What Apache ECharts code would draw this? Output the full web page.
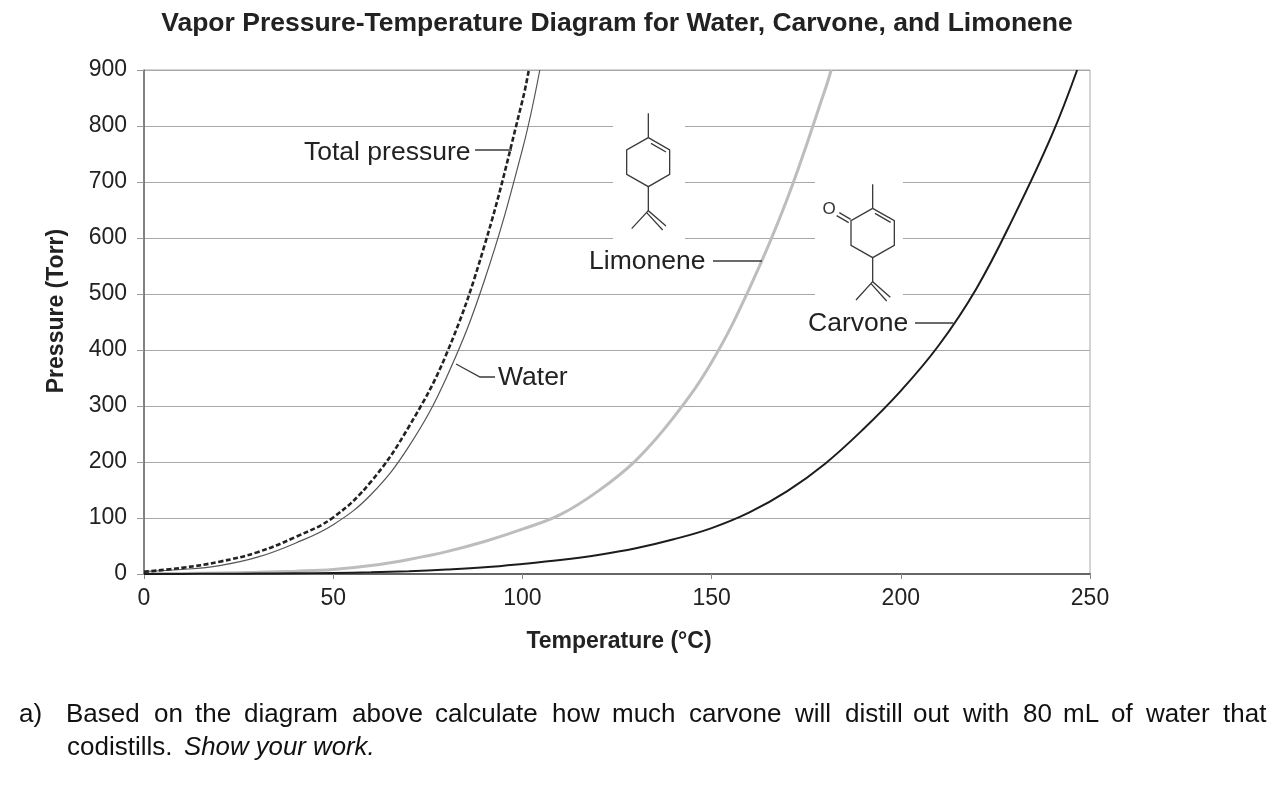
<!DOCTYPE html>
<html><head><meta charset="utf-8">
<style>html,body{margin:0;padding:0;background:#fff}#c{width:1276px;height:786px}</style>
<script src="https://cdn.jsdelivr.net/npm/echarts@6/dist/echarts.min.js"></script>
</head><body><div id="c"></div>
<script>
const xTicks = {min:0, max:250, interval:50};
const yTicks = {min:0, max:900, interval:100};
const waterT = [0,10,20,30,40,50,60,70,80,90,100,104.6];
const waterP = [4.6,8,15,30,55,88,142,228,352,525,758,900];
const totalT = [0,10,20,30,40,50,60,70,80,90,100,101.7];
const totalP = [4,11,22,39,66,101,165,263,394,587,845,900];
const limoneneT = [0,10,20,30,40,50,60,70,80,90,100,110,120,130,140,150,160,170,180,181.6];
const limoneneP = [0.5,1,2,3,5,8,15,26,40,58,80,106,148,203,280,378,510,670,865,900];
const carvoneT = [0,10,20,30,40,50,60,70,80,90,100,110,120,130,140,150,160,170,180,190,200,210,220,230,240,246.6];
const carvoneP = [0,0.2,0.4,0.7,1.2,2,3,5,8,12,18,25,34,46,62,82,110,148,197,258,327,408,510,640,785,900];
const FONT = '"Liberation Sans", Arial, sans-serif';
const zip = (a,b)=>a.map((v,i)=>[v,b[i]]);

function seg(pts, w, c){ return {type:'polyline', z:20, shape:{points:pts}, style:{stroke:c||'#3a3a3a', lineWidth:w||1.3, fill:null}, silent:true}; }
function lab(t,x,y,o){ return {type:'text', z:20, x, y, style:Object.assign({text:t, font:'26.5px '+FONT, fill:'#222', textVerticalAlign:'middle'}, o||{})}; }
const L = (x,y)=>[580+x/3, 90+y/3];
const mapL = a=>a.map(p=>L(p[0],p[1]));

const line1 = [['a)',19],['Based',66],['on',154],['the',195],['diagram',244],['above',352],['calculate',435],['how',552],['much',612],['carvone',689],['will',795],['distill',845],['out',913],['with',963],['80',1023],['mL',1063],['of',1111],['water',1146],['that',1223]];
const paraFont = '26px '+FONT;
const para = line1.map(w=>lab(w[0],w[1],715,{font:paraFont,fill:'#111'}));
para.push(lab('codistills.',67,748,{font:paraFont,fill:'#111'}));
para.push(lab('Show your work.',184,748,{font:'italic 25.8px '+FONT,fill:'#111'}));

const chart = echarts.init(document.getElementById('c'),null,{renderer:'canvas'});
chart.setOption({
  animation:false,
  backgroundColor:'#fff',
  title:{text:'Vapor Pressure-Temperature Diagram for Water, Carvone, and Limonene',left:612,top:5,textAlign:'center',
    textStyle:{fontFamily:FONT,fontWeight:'bold',fontSize:26.5,color:'#222'}},
  grid:{left:144,top:70,right:186,bottom:212,show:true,borderColor:'#aaa',borderWidth:1,backgroundColor:'transparent'},
  xAxis:{type:'value',min:xTicks.min,max:xTicks.max,interval:xTicks.interval,
    name:'Temperature (°C)',nameLocation:'middle',nameGap:56,
    nameTextStyle:{fontFamily:FONT,fontWeight:'bold',fontSize:23,color:'#222',padding:[0,0,0,4]},
    axisLine:{show:true,lineStyle:{color:'#666',width:2}},
    axisTick:{show:true,length:5,lineStyle:{color:'#888',width:1}},
    axisLabel:{fontFamily:FONT,fontSize:23,color:'#222',margin:13},
    splitLine:{show:false}},
  yAxis:{type:'value',min:yTicks.min,max:yTicks.max,interval:yTicks.interval,
    name:'Pressure (Torr)',nameLocation:'middle',nameGap:76,
    nameTextStyle:{fontFamily:FONT,fontWeight:'bold',fontSize:23,color:'#222',padding:[0,0,0,22]},
    axisLine:{show:true,lineStyle:{color:'#666',width:1.5}},
    axisTick:{show:true,length:7,lineStyle:{color:'#999',width:1}},
    axisLabel:{fontFamily:FONT,fontSize:23,color:'#222',margin:17,padding:[2,0,0,0]},
    splitLine:{show:true,lineStyle:{color:'#a8a8a8',width:1}}},
  series:[
    {name:'Limonene',type:'line',data:zip(limoneneT,limoneneP),smooth:0.4,showSymbol:false,lineStyle:{color:'#bdbdbd',width:3}},
    {name:'Carvone',type:'line',data:zip(carvoneT,carvoneP),smooth:0.4,showSymbol:false,lineStyle:{color:'#1c1c1c',width:2}},
    {name:'Water',type:'line',data:zip(waterT,waterP),smooth:0.4,showSymbol:false,lineStyle:{color:'#555',width:1.2}},
    {name:'Total pressure',type:'line',data:zip(totalT,totalP),smooth:0.4,showSymbol:false,lineStyle:{color:'#222',width:2.6,type:[5,2.5]}}
  ],
  graphic:{elements:[
    {type:'rect',z:1,shape:{x:613,y:112,width:72,height:140},style:{fill:'#fff'},silent:true},
    {type:'rect',z:1,shape:{x:815,y:172,width:88,height:130},style:{fill:'#fff'},silent:true},
    // limonene
    seg(mapL([[205,70],[205,143]])),
    seg(mapL([[205,143],[269,180],[269,253],[205,290],[140,253],[140,180],[205,143]])),
    seg(mapL([[213,160],[258,186]])),
    seg(mapL([[205,290],[205,362]])),
    seg(mapL([[155,416],[205,362],[258,408]])),
    seg(mapL([[200,368],[248,420]])),
    // carvone
    seg(mapL([[878,283],[878,355]])),
    seg(mapL([[878,355],[943,392],[943,466],[878,503],[813,466],[813,392],[878,355]])),
    seg(mapL([[885,370],[932,397]])),
    seg(mapL([[778,368],[812,388]])),
    seg(mapL([[770,377],[806,398]])),
    seg(mapL([[878,503],[878,575]])),
    seg(mapL([[828,630],[878,575],[931,622]])),
    seg(mapL([[873,581],[920,633]])),
    {type:'text',z:20,x:829,y:209,style:{text:'O',font:'17px '+FONT,fill:'#333',textAlign:'center',textVerticalAlign:'middle'}},
    // labels and leaders
    lab('Total pressure',304,153),
    seg([[475,150],[512,150]]),
    lab('Water',498,378),
    seg([[456,364],[480,377],[495,377]]),
    lab('Limonene',589,262),
    seg([[713,261],[762,261]]),
    lab('Carvone',808,324),
    seg([[915,323],[953,323]]),
    ...para
  ]}
});
</script></body></html>
